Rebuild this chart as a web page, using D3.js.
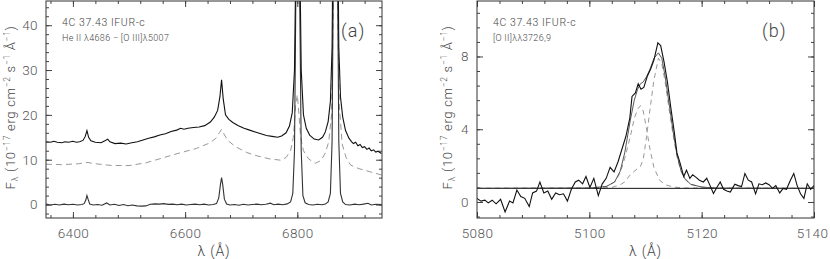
<!DOCTYPE html>
<html>
<head>
<meta charset="utf-8">
<script src="https://cdn.jsdelivr.net/npm/d3@7"></script>
<style>
  body { margin: 0; background: #fff; }
  svg text { font-family: Roboto, "DejaVu Sans", sans-serif; font-weight: 300; fill: #444; }
  .tick text { font-size: 13.5px; letter-spacing: 0.4px; fill: #555; }
  .tick line { stroke: #444; }
  .domain { display: none; }
</style>
</head>
<body>
<svg id="chart" width="830" height="259"></svg>
<script>
// ---- panel (a): He II 4686 - [O III] 5007 ----
var obsA = [
  [6352,14.0],[6360,13.9],[6366,14.1],[6372,13.9],[6380,13.8],[6386,14.0],[6392,13.9],[6400,14.1],[6406,13.9],[6412,14.0],
  [6418,14.3],[6422,15.2],[6425,16.5],[6428,15.0],[6432,14.2],[6440,13.9],[6450,13.8],[6458,14.3],[6462,14.6],[6466,14.0],
  [6475,13.6],[6485,13.7],[6495,13.5],[6505,13.8],[6515,14.0],[6525,14.4],[6535,14.8],[6545,15.1],[6555,15.5],[6565,15.8],
  [6575,16.3],[6585,16.6],[6592,17.0],[6598,16.8],[6605,17.0],[6615,17.2],[6625,17.3],[6635,17.6],[6645,18.4],[6652,19.5],
  [6658,21.0],[6662,24.0],[6665,27.8],[6668,23.5],[6672,20.0],[6678,19.0],[6685,18.3],[6695,17.6],[6705,17.0],[6715,16.6],
  [6725,16.2],[6735,15.8],[6745,15.4],[6755,15.2],[6765,15.0],[6772,15.3],[6780,16.0],[6786,17.5],[6791,20.5],[6795,30],
  [6798,60],[6801,90],[6804,60],[6807,30],[6811,20],[6816,17.0],[6822,15.5],[6830,14.6],[6838,14.4],[6845,15.0],
  [6850,16.2],[6855,18.5],[6859,23],[6862,35],[6865,80],[6868,120],[6871,80],[6874,35],[6877,24],[6881,19.5],
  [6886,16.5],[6892,14.8],[6897,14.0],[6900,13.6],[6904,13.9],[6908,13.1],[6912,13.4],[6916,12.7],[6920,12.9],[6924,12.3],
  [6928,12.6],[6932,12.0],[6936,12.2],[6940,11.7],[6944,11.9],[6950,11.4]
];
var modelA = [
  [6352,9.0],[6380,8.9],[6410,9.1],[6425,9.4],[6440,9.1],[6470,8.7],[6500,8.7],[6530,9.3],[6560,10.4],[6590,11.5],
  [6620,12.5],[6645,13.8],[6655,14.8],[6661,16.0],[6665,16.8],[6669,15.8],[6676,14.3],[6690,12.9],[6710,11.6],[6730,10.8],
  [6750,10.2],[6770,9.9],[6780,10.5],[6788,12.0],[6793,15],[6797,22],[6800,24.5],[6803,20],[6806,15],[6811,12],
  [6820,10.2],[6832,9.2],[6842,9.8],[6850,11.5],[6856,14],[6861,20],[6865,50],[6868,72],[6871,50],[6875,22],
  [6880,13.5],[6887,10.5],[6895,8.8],[6910,8.0],[6930,7.3],[6950,6.6]
];
var residA = [
  [6352,0.1],[6360,-0.1],[6368,0.05],[6376,-0.1],[6384,0.1],[6392,-0.05],[6400,0.05],[6408,-0.1],[6416,0.0],[6420,0.2],
  [6423,1.0],[6425,2.0],[6427,1.2],[6430,0.1],[6436,-0.1],[6444,0.0],[6452,-0.15],[6460,0.35],[6466,-0.1],[6474,0.05],
  [6482,-0.2],[6490,0.0],[6498,-0.25],[6506,-0.1],[6514,-0.3],[6522,-0.35],[6530,-0.3],[6538,0.05],[6546,0.15],[6554,0.1],
  [6562,0.2],[6570,0.05],[6578,0.1],[6586,-0.05],[6594,0.1],[6602,-0.1],[6610,0.0],[6618,0.1],[6626,-0.05],[6634,0.1],
  [6642,-0.1],[6650,0.0],[6656,0.2],[6660,1.5],[6663,4.5],[6665,6.0],[6667,4.5],[6670,1.2],[6674,0.1],[6680,-0.1],
  [6688,0.0],[6696,-0.15],[6704,0.05],[6712,-0.1],[6720,0.0],[6728,0.1],[6736,-0.05],[6744,0.05],[6752,0.3],[6758,-0.05],
  [6766,0.1],[6774,-0.05],[6782,0.15],[6788,0.6],[6792,2.5],[6795,12],[6798,55],[6801,80],[6804,50],[6807,12],
  [6810,2],[6814,0.4],[6820,0.0],[6828,-0.1],[6836,0.05],[6844,-0.05],[6850,0.1],[6855,0.6],[6859,2.5],[6862,14],
  [6865,65],[6868,100],[6871,65],[6874,14],[6877,2.5],[6881,0.6],[6886,0.0],[6894,-0.1],[6902,0.1],[6910,-0.05],
  [6918,0.1],[6926,0.3],[6932,-0.1],[6940,0.05],[6950,0.0]
];
var xDomainA = [6352, 6951];
var yDomainA = [-3, 45.4];
var xTicksA = [6400, 6600, 6800];
var yTicksA = [0, 10, 20, 30, 40];

// ---- panel (b): [O II] 3726,9 ----
var obsB = [
  [5080.0,0.2],[5080.7,0.05],[5081.4,0.1],[5082.0,-0.05],[5082.7,0.1],[5083.4,-0.1],[5084.2,0.15],[5085.0,-0.55],[5085.8,0.05],[5086.4,-0.05],
  [5087.1,0.66],[5087.8,0.3],[5088.5,0.2],[5089.3,-0.25],[5089.9,0.5],[5090.6,0.6],[5091.2,1.1],[5091.9,0.5],[5092.6,0.6],[5093.3,0.15],
  [5094.0,0.5],[5094.7,0.4],[5095.4,0.45],[5096.1,0.05],[5096.8,0.7],[5097.5,1.1],[5098.1,1.2],[5098.8,1.0],[5099.4,1.4],[5100.1,0.8],
  [5100.8,1.3],[5101.6,0.35],[5102.3,1.0],[5103.0,1.3],[5103.7,1.9],[5104.4,1.65],[5105.1,2.2],[5105.8,2.9],[5106.5,3.6],[5107.2,4.6],
  [5107.6,5.8],[5108.2,6.0],[5108.7,6.5],[5109.2,6.2],[5109.7,6.3],[5110.3,6.9],[5110.9,7.3],[5111.5,7.8],[5112.2,8.75],[5112.7,8.6],
  [5113.3,7.7],[5113.9,6.6],[5114.5,5.2],[5115.1,3.9],[5115.6,2.7],[5116.2,2.1],[5116.8,1.4],[5117.3,1.75],[5117.9,1.3],[5118.4,1.5],
  [5119.0,1.35],[5119.6,1.2],[5120.3,1.1],[5120.9,1.3],[5121.5,0.9],[5122.1,0.47],[5122.7,0.8],[5123.3,1.1],[5123.9,0.7],[5124.5,0.6],
  [5125.1,0.55],[5125.9,0.98],[5126.5,0.9],[5127.1,0.85],[5127.7,1.57],[5128.3,1.2],[5128.9,1.1],[5129.6,0.45],[5130.2,1.0],[5130.8,0.95],
  [5131.4,1.05],[5132.0,0.95],[5132.6,0.75],[5133.2,0.9],[5133.9,0.5],[5134.5,0.75],[5135.1,0.7],[5135.8,1.2],[5136.4,1.57],[5137.0,0.9],
  [5137.6,0.45],[5138.2,0.2],[5138.8,1.0],[5139.4,0.7],[5140.0,0.9]
];
var fitB = [
  [5080,0.75],[5100,0.77],[5103,0.85],[5104.5,1.1],[5105.5,1.7],[5106.3,2.7],[5107.3,4.5],[5108,5.6],[5108.6,6.2],[5109.1,6.5],
  [5109.6,6.6],[5110.2,6.9],[5110.8,7.3],[5111.5,7.9],[5112.3,8.2],[5112.9,7.9],[5113.5,6.9],[5114.2,5.4],[5114.9,3.9],[5115.6,2.6],
  [5116.3,1.75],[5117,1.3],[5118,0.98],[5120,0.82],[5123,0.76],[5140,0.75]
];
var comp1B = [
  [5080,0.75],[5100,0.76],[5103,0.85],[5104.5,1.1],[5105.5,1.6],[5106.3,2.4],[5107.3,3.6],[5108,4.6],[5108.6,5.1],[5109.1,5.3],
  [5109.6,5.0],[5110.2,4.0],[5110.8,2.9],[5111.5,1.9],[5112.5,1.2],[5113.5,0.95],[5115,0.82],[5117,0.77],[5140,0.75]
];
var comp2B = [
  [5080,0.75],[5102,0.76],[5104,0.8],[5105.5,0.95],[5106.3,1.1],[5107.3,1.5],[5108.6,1.85],[5109.1,1.95],[5109.6,2.35],[5110.2,3.6],
  [5110.8,5.1],[5111.5,6.7],[5112.3,7.9],[5112.9,7.6],[5113.5,6.6],[5114.2,5.1],[5114.9,3.7],[5115.6,2.5],[5116.3,1.7],[5117,1.25],
  [5118,0.97],[5120,0.82],[5123,0.76],[5140,0.75]
];
var contB = [[5080,0.75],[5140,0.75]];
var xDomainB = [5080, 5140];
var yDomainB = [-0.88, 11.05];
var xTicksB = [5080, 5100, 5120, 5140];
var yTicksB = [0, 4, 8];

var svg = d3.select("#chart");

function drawPanel(opt) {
    var x = d3.scaleLinear().domain(opt.xDomain).range([opt.left, opt.right]);
    var y = d3.scaleLinear().domain(opt.yDomain).range([opt.bottom, opt.top]);
    var g = svg.append("g");

    // clip so the strong lines run off the top
    g.append("clipPath").attr("id", opt.id + "-clip")
        .append("rect")
        .attr("x", opt.left).attr("y", opt.top)
        .attr("width", opt.right - opt.left).attr("height", opt.bottom - opt.top);

    var line = d3.line()
        .x(function (d) { return x(d[0]); })
        .y(function (d) { return y(d[1]); });

    var plot = g.append("g").attr("clip-path", "url(#" + opt.id + "-clip)");
    opt.series.forEach(function (s) {
        plot.append("path")
            .datum(s.data)
            .attr("fill", "none")
            .attr("stroke", s.color)
            .attr("stroke-width", s.width)
            .attr("stroke-dasharray", s.dash || null)
            .attr("d", line);
    });

    // minor ticks on all four sides
    var xMinor = d3.range(opt.xTicks[0] - 10 * opt.xMinor, opt.xDomain[1], opt.xMinor)
        .filter(function (v) { return v >= opt.xDomain[0] && v <= opt.xDomain[1]; });
    var yMinor = d3.range(opt.yTicks[0] - 10 * opt.yMinor, opt.yDomain[1], opt.yMinor)
        .filter(function (v) { return v >= opt.yDomain[0] && v <= opt.yDomain[1]; });

    g.append("g").attr("transform", "translate(0," + opt.bottom + ")")
        .call(d3.axisBottom(x).tickValues(xMinor).tickSize(-3).tickFormat(""));
    g.append("g").attr("transform", "translate(0," + opt.top + ")")
        .call(d3.axisTop(x).tickValues(xMinor).tickSize(-3).tickFormat(""));
    g.append("g").attr("transform", "translate(" + opt.left + ",0)")
        .call(d3.axisLeft(y).tickValues(yMinor).tickSize(-3).tickFormat(""));
    g.append("g").attr("transform", "translate(" + opt.right + ",0)")
        .call(d3.axisRight(y).tickValues(yMinor).tickSize(-3).tickFormat(""));

    // major ticks
    var xAxis = g.append("g").attr("transform", "translate(0," + opt.bottom + ")")
        .call(d3.axisBottom(x).tickValues(opt.xTicks).tickSize(-6).tickPadding(10).tickFormat(d3.format("d")));
    // keep the last label inside the page
    xAxis.selectAll(".tick text").filter(function (d) { return x(d) > 800; }).attr("dx", -2);
    g.append("g").attr("transform", "translate(0," + opt.top + ")")
        .call(d3.axisTop(x).tickValues(opt.xTicks).tickSize(-6).tickFormat(""));
    g.append("g").attr("transform", "translate(" + opt.left + ",0)")
        .call(d3.axisLeft(y).tickValues(opt.yTicks).tickSize(-6).tickPadding(8).tickFormat(d3.format("d")));
    g.append("g").attr("transform", "translate(" + opt.right + ",0)")
        .call(d3.axisRight(y).tickValues(opt.yTicks).tickSize(-6).tickFormat(""));

    g.append("rect")
        .attr("x", opt.left).attr("y", opt.top)
        .attr("width", opt.right - opt.left).attr("height", opt.bottom - opt.top)
        .attr("fill", "none").attr("stroke", "#333").attr("stroke-width", 1);

    // labels
    g.append("text")
        .attr("x", (opt.left + opt.right) / 2).attr("y", 256)
        .attr("text-anchor", "middle").style("font-size", "14px").style("letter-spacing", "0.8px")
        .text("λ (Å)");

    var yl = g.append("text")
        .attr("transform", "translate(" + opt.yLabelX + "," + ((opt.top + opt.bottom) / 2 - 2) + ") rotate(-90)")
        .attr("text-anchor", "middle").style("font-size", "13px").style("letter-spacing", "0.7px");
    yl.append("tspan").text("F");
    yl.append("tspan").attr("dy", 3).style("font-size", "9px").text("λ");
    yl.append("tspan").attr("dy", -3).text(" (10");
    yl.append("tspan").attr("dy", -5).style("font-size", "8.5px").text("−17");
    yl.append("tspan").attr("dy", 5).text(" erg cm");
    yl.append("tspan").attr("dy", -5).style("font-size", "8.5px").text("−2");
    yl.append("tspan").attr("dy", 5).text(" s");
    yl.append("tspan").attr("dy", -5).style("font-size", "8.5px").text("−1");
    yl.append("tspan").attr("dy", 5).text(" Å");
    yl.append("tspan").attr("dy", -5).style("font-size", "8.5px").text("−1");
    yl.append("tspan").attr("dy", 5).text(")");

    g.append("text").attr("x", opt.left + 16).attr("y", 26)
        .style("font-size", "10.5px").style("letter-spacing", "0.6px").text("4C 37.43 IFUR-c");
    g.append("text").attr("x", opt.left + 16).attr("y", 41)
        .style("font-size", "9px").style("letter-spacing", "0.3px").text(opt.subtitle);
    g.append("text").attr("x", opt.tagX).attr("y", 37)
        .style("font-size", "18px").style("letter-spacing", "1px").text(opt.tag);
}

drawPanel({
    id: "a", left: 46, right: 382, top: 1, bottom: 218,
    xDomain: xDomainA, yDomain: yDomainA, xTicks: xTicksA, yTicks: yTicksA,
    xMinor: 40, yMinor: 2, yLabelX: 15,
    subtitle: "He II λ4686 − [O III]λ5007", tag: "(a)", tagX: 341,
    series: [
        { data: modelA, color: "#999", width: 1, dash: "6,4" },
        { data: residA, color: "#333", width: 1.1 },
        { data: obsA, color: "#111", width: 1.1 }
    ]
});

drawPanel({
    id: "b", left: 477, right: 814, top: 1, bottom: 218,
    xDomain: xDomainB, yDomain: yDomainB, xTicks: xTicksB, yTicks: yTicksB,
    xMinor: 4, yMinor: 0.8, yLabelX: 452,
    subtitle: "[O II]λλ3726,9", tag: "(b)", tagX: 762,
    series: [
        { data: comp1B, color: "#999", width: 1, dash: "5,4" },
        { data: comp2B, color: "#999", width: 1, dash: "5,4" },
        { data: contB, color: "#111", width: 1 },
        { data: fitB, color: "#444", width: 0.9 },
        { data: obsB, color: "#111", width: 1.1 }
    ]
});
</script>
</body>
</html>
